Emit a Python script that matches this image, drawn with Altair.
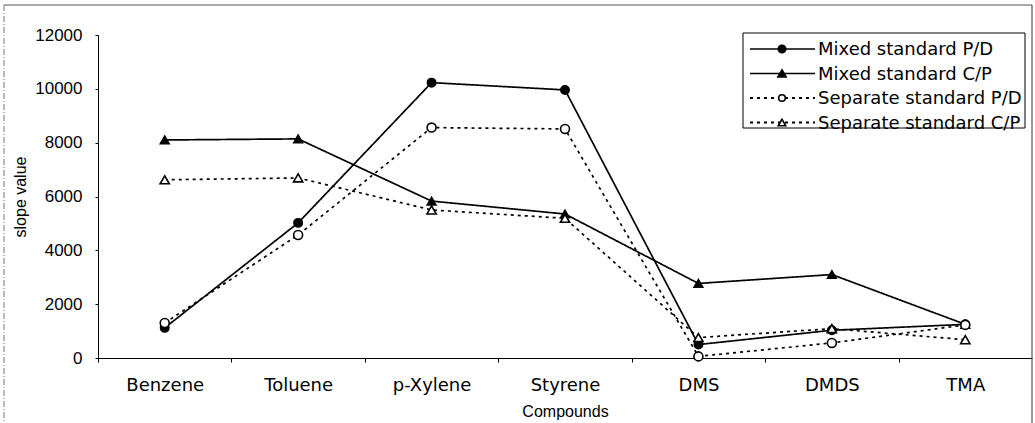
import altair as alt
import pandas as pd

categories = ["Benzene", "Toluene", "p-Xylene", "Styrene", "DMS", "DMDS", "TMA"]
series_names = ["Mixed standard P/D", "Mixed standard C/P",
                "Separate standard P/D", "Separate standard C/P"]
mixed_pd = [1120, 5020, 10230, 9960, 500, 1030, 1250]
mixed_cp = [8100, 8140, 5830, 5350, 2770, 3100, 1250]
separate_pd = [1300, 4570, 8560, 8510, 60, 560, 1230]
separate_cp = [6620, 6690, 5500, 5190, 760, 1090, 680]
y_ticks = [0, 2000, 4000, 6000, 8000, 10000, 12000]

values = [mixed_pd, mixed_cp, separate_pd, separate_cp]
rows = []
for name, vals in zip(series_names, values):
    for c, v in zip(categories, vals):
        rows.append({"compound": c, "value": v, "series": name})
df = pd.DataFrame(rows)

W, H = 934, 323
FONT = "Liberation Sans"
WIDE = "DejaVu Sans"

dash_range = [[1, 0], [1, 0], [3, 4], [3, 4]]
width_range = [1.7, 1.7, 2.2, 2.2]
shape_range = ["circle", "triangle-up", "circle", "triangle-up"]
fill_range = ["black", "black", "white", "white"]
size_range = [70, 85, 55, 70]

x_enc = alt.X("compound:N", sort=categories,
              scale=alt.Scale(type="point", padding=0.5),
              axis=alt.Axis(title="Compounds", labelAngle=0, labelFontSize=18,
                            labelFont=WIDE, labelPadding=14, tickSize=4,
                            tickOffset=-W / 14, labelOffset=W / 14,
                            titleFontSize=16, titleFontWeight="normal",
                            titleY=53, titleBaseline="middle"))
y_enc = alt.Y("value:Q", scale=alt.Scale(domain=[0, 12000], nice=False),
              axis=alt.Axis(title="slope value", values=y_ticks, format="d",
                            labelFontSize=17, labelPadding=13, tickSize=3,
                            titleFontSize=16, titleFontWeight="normal",
                            titlePadding=6, grid=False))

lines = alt.Chart(df).mark_line(color="black").encode(
    x=x_enc, y=y_enc, detail="series:N",
    strokeDash=alt.StrokeDash("series:N", scale=alt.Scale(domain=series_names, range=dash_range), legend=None),
    strokeWidth=alt.StrokeWidth("series:N", scale=alt.Scale(domain=series_names, range=width_range), legend=None),
)
points = alt.Chart(df).mark_point(stroke="black", strokeWidth=1.6, opacity=1, filled=False).encode(
    x=alt.X("compound:N", sort=categories), y="value:Q",
    shape=alt.Shape("series:N", scale=alt.Scale(domain=series_names, range=shape_range), legend=None),
    fill=alt.Fill("series:N", scale=alt.Scale(domain=series_names, range=fill_range), legend=None),
    size=alt.Size("series:N", scale=alt.Scale(domain=series_names, range=size_range), legend=None),
)

layers = [lines, points]

# legend box
box_df = pd.DataFrame({"series": ["box"]})
layers.append(alt.Chart(box_df).mark_rect(fill="white", stroke="black", strokeWidth=1).encode(
    x=alt.value(645), x2=alt.value(927), y=alt.value(-2), y2=alt.value(93)))
for i, name in enumerate(series_names):
    yy = 14 + 24.5 * i
    d = pd.DataFrame({"series": [name]})
    layers.append(alt.Chart(d).mark_rule(color="black", strokeWidth=width_range[i],
                                         strokeDash=dash_range[i]).encode(
        x=alt.value(652), x2=alt.value(717), y=alt.value(yy)))
    layers.append(alt.Chart(d).mark_point(shape=shape_range[i], fill=fill_range[i], stroke="black",
                                          strokeWidth=1.6, size=size_range[i] * 0.8, opacity=1,
                                          filled=False).encode(
        x=alt.value(684), y=alt.value(yy)))
    layers.append(alt.Chart(d).mark_text(align="left", baseline="middle", fontSize=18,
                                         font=WIDE, color="black").encode(
        x=alt.value(720), y=alt.value(yy + 1), text="series:N"))

# outer frame
fr = pd.DataFrame({"series": ["frame"]})
layers.append(alt.Chart(fr).mark_rule(color="#555", strokeWidth=1).encode(
    x=alt.value(-94), x2=alt.value(934), y=alt.value(-30)))
layers.append(alt.Chart(fr).mark_rule(color="#777", strokeWidth=1, strokeDash=[6, 2, 1, 2]).encode(
    x=alt.value(-94), y=alt.value(-30), y2=alt.value(388)))
layers.append(alt.Chart(fr).mark_rule(color="#333", strokeWidth=1).encode(
    x=alt.value(934), y=alt.value(-30), y2=alt.value(388)))

chart = alt.layer(*layers).properties(
    width=W, height=H,
    autosize=alt.AutoSizeParams(type="none"),
    padding={"left": 98, "top": 35, "right": 3, "bottom": 65},
    background="white",
).configure_view(stroke=None).configure_axis(
    labelFont=FONT, titleFont=FONT, domainColor="black", tickColor="black",
    labelColor="black", titleColor="black", domainWidth=1,
)

chart.save("out.html", embed_options={"renderer": "svg", "actions": False})
